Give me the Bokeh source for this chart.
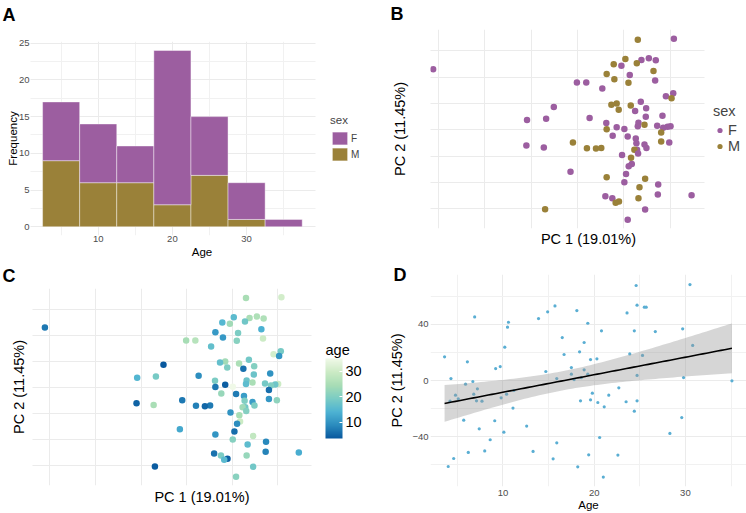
import numpy as np
from bokeh.plotting import figure
from bokeh.layouts import column, row
from bokeh.models import (ColumnDataSource, FixedTicker, Legend, LegendItem, Label,
                          LinearColorMapper, ColorBar, Range1d)
from bokeh.transform import linear_cmap
from bokeh.embed import file_html
from bokeh.resources import INLINE

FONT = "Liberation Sans"
F_COL = "#9c5ea0"
M_COL = "#9a8139"
D_COL = "#5aaed3"
GRID = "#ebebeb"
GRID_MINOR = "#f1f1f1"
TICK_TXT = "#4d4d4d"

# ---- A: age histogram (binwidth 5), stacked by sex ----
bin_left = [2.5, 7.5, 12.5, 17.5, 22.5, 27.5, 32.5]
bin_width = 5
count_f = [8, 8, 5, 21, 8, 5, 1]
count_m = [9, 6, 6, 3, 7, 1, 0]

# ---- B / C: PCA scores per sample ----
pc1 = [54.1, 15.2, 27.1, 1.8, 19.1, 34.6, 14.1, -10.8, -2.5, -205.6,
       32.1, -18.4, 6.5, -10.1, 33.9, -50.5, -40.4, 5.1, -23.1, 53.4,
       45.5, 51.6, 18.4, -7.6, -13.3, 7.6, -75.4, 24.2, -5.4, 12.3,
       41.8, 23.8, -36.8, -83.7, -104.3, 15.9, -18.8, 22.4, 36.1, 15.2,
       50.5, 47.3, -7.6, 42.6, 0.7, -18.4, 40.4, -11.9, 4.3, 13.0,
       40.4, 49.1, -54.8, 13.7, 22.4, -105.0, -86.2, 24.5, -24.2, -39.7,
       -29.9, 14.4, 11.5, 15.5, -1.8, 7.9, 8.7, 5.4, -57.4, 2.5,
       -18.4, 23.1, 0.7, 37.2, 17.0, 36.8, 73.2, -19.8, -12.3, 15.9,
       -5.1, -8.7, -84.8, 23.1, 4.3]
pc2 = [69.1, 68.4, 54.3, 53.8, 53.1, 52.8, 50.5, 49.7, 48.7, 45.9,
       44.6, 42.3, 41.6, 38.3, 37.5, 36.0, 36.0, 35.7, 31.4, 27.8,
       25.5, 24.0, 21.2, 19.9, 19.1, 18.4, 17.3, 16.3, 15.3, 14.3,
       10.7, 9.9, 8.9, 8.4, 7.4, 5.4, 5.1, 3.8, 3.1, 2.6,
       2.6, 2.3, 2.0, 1.5, 0.5, 0.3, -2.0, -4.6, -5.1, -6.6,
       -8.9, -9.7, -9.7, -10.2, -11.2, -12.0, -13.5, -13.8, -13.8, -14.0,
       -14.3, -15.1, -15.1, -18.1, -19.1, -21.2, -26.0, -27.8, -31.9, -33.7,
       -36.0, -37.2, -39.8, -41.6, -43.6, -49.2, -49.7, -50.5, -52.0, -52.0,
       -54.6, -55.4, -60.5, -60.7, -68.4]
sex = list("FMFMFFMMFF" "MMFMFFFMFF" "FMFMMMFFMF" "FFFFFFFMFF" "FFFFFMMFFF"
           "MFMFFFFFMM" "MFMFFMFFFF" "MMFFMFFFFM" "MMMFF")
age = [30.5, 24.6, 25.5, 15.7, 24.7, 25.7, 18.1, 14.9, 23.6, 6.9,
       13.9, 10.6, 19.3, 10.5, 29.7, 24.4, 26.7, 20.8, 16.5, 18.9,
       30.8, 10.2, 18.4, 23.9, 16.7, 25.3, 3.6, 20.3, 19.6, 6.1,
       9.7, 17.5, 9.2, 18.9, 14.7, 17.5, 19.3, 24.7, 18.6, 15.9,
       29.8, 17.8, 4.3, 20.0, 35.0, 6.7, 5.9, 22.7, 7.2, 11.2,
       10.4, 21.6, 6.8, 19.8, 11.1, 4.8, 24.7, 19.6, 7.1, 7.7,
       5.1, 18.5, 23.5, 20.4, 9.8, 24.4, 29.6, 9.1, 12.6, 5.7,
       10.1, 28.3, 20.6, 8.6, 15.9, 8.0, 13.3, 6.2, 19.4, 22.6,
       4.6, 15.5, 4.0, 18.2, 21.0]

# ---- D: PC 2 against age ----
age_d = [3.6, 4.0, 4.3, 4.2, 4.6, 4.8, 5.1, 5.7, 5.9, 6.1,
         6.2, 6.7, 6.8, 6.9, 7.1, 7.2, 7.4, 7.7, 8.0, 8.6,
         9.1, 9.2, 9.7, 9.8, 10.1, 10.2, 10.4, 10.5, 10.6, 11.1,
         11.2, 12.6, 13.3, 13.9, 14.7, 14.9, 15.7, 15.5, 15.9, 15.9,
         16.5, 16.7, 17.5, 17.5, 17.8, 18.1, 18.2, 18.4, 18.5, 18.6,
         18.9, 18.9, 19.3, 19.3, 19.4, 19.6, 19.6, 19.8, 20.3, 20.4,
         20.6, 20.8, 21.0, 21.1, 21.6, 22.6, 22.7, 23.5, 23.6, 23.9,
         24.4, 24.4, 24.6, 24.7, 24.7, 24.7, 25.3, 25.5, 25.7, 26.7,
         28.3, 29.6, 29.7, 29.8, 30.5, 30.8, 35.1]
pc2_d = [16.8, -61.1, 1.4, -14.7, -55.4, -10.4, -13.0, -28.2, -2.6, 13.3,
         -51.1, -0.7, -9.7, 45.2, -14.4, -5.9, -34.3, -14.7, -50.0, -42.1,
         -28.6, 8.5, 9.9, -12.3, -36.7, 23.7, -9.7, 37.9, 41.4, -19.6,
         -7.1, -32.4, -50.4, 44.0, 6.4, 48.8, 53.0, -55.6, 1.4, -44.3,
         30.5, 18.5, 9.2, 4.5, 0.7, 49.7, -61.3, 20.4, -14.4, 2.1,
         27.0, 7.6, 4.5, 40.7, -52.8, 14.9, -13.7, -9.0, 15.4, -15.6,
         -40.5, 35.3, -68.6, -18.7, -10.4, -53.0, -5.2, -15.1, 48.0, 18.9,
         35.3, -21.8, 67.5, 3.6, 53.5, -14.4, 17.8, 52.1, 52.1, 34.8,
         -37.6, -26.3, 36.7, 2.1, 68.2, 24.9, -0.2]

GNBU = ["#08589e", "#2b8cbe", "#4eb3d3", "#7bccc4", "#a8ddb5", "#ccebc5", "#f0f9e8"]


def interp_palette(stops, n):
    rgb = [tuple(int(s[i:i + 2], 16) for i in (1, 3, 5)) for s in stops]
    out = []
    for k in range(n):
        t = k / (n - 1) * (len(rgb) - 1)
        i = min(int(t), len(rgb) - 2)
        f = t - i
        c = [round(rgb[i][j] + (rgb[i + 1][j] - rgb[i][j]) * f) for j in range(3)]
        out.append("#%02x%02x%02x" % tuple(c))
    return out


def padded(lo, hi, frac=0.05):
    d = (hi - lo) * frac
    return (lo - d, hi + d)


def mapped_range(ext, px_lo, px_hi, f_lo, f_hi):
    """Range whose ends ext[0], ext[1] land on pixels px_lo, px_hi,
    stretched to a frame that runs from pixel f_lo to f_hi."""
    k = (ext[1] - ext[0]) / (px_hi - px_lo)
    return Range1d(ext[0] + (f_lo - px_lo) * k, ext[0] + (f_hi - px_lo) * k)


def make_fig(width, height, left, right, top, bottom, x_ext, x_px, y_ext, y_px):
    xr = mapped_range(x_ext, x_px[0], x_px[1], left, width - right)
    yr = mapped_range(y_ext, y_px[0], y_px[1], height - bottom, top)
    p = figure(width=width, height=height, x_range=xr, y_range=yr,
               output_backend="svg", toolbar_location=None,
               min_border_left=left, min_border_right=right,
               min_border_top=top, min_border_bottom=bottom)
    p.title.visible = False
    p.outline_line_color = None
    p.border_fill_color = "white"
    for ax in (p.xaxis[0], p.yaxis[0]):
        ax.axis_line_color = None
        ax.major_tick_line_color = None
        ax.minor_tick_line_color = None
        ax.major_tick_out = 0
        ax.major_tick_in = 0
        ax.minor_tick_out = 0
        ax.minor_tick_in = 0
        ax.major_label_text_font = FONT
        ax.major_label_text_color = TICK_TXT
        ax.major_label_text_font_size = "9.5px"
        ax.major_label_standoff = 3
        ax.axis_label_text_font = FONT
        ax.axis_label_text_font_style = "normal"
        ax.axis_label_text_color = "black"
    p.xaxis.bounds = x_ext
    p.xgrid.grid_line_color = GRID
    p.ygrid.grid_line_color = GRID
    p.xgrid.cross_bounds = y_ext
    p.ygrid.cross_bounds = x_ext
    return p


def set_ticks(p, xmaj, xmin, ymaj, ymin, labelled=True):
    xt = FixedTicker(ticks=xmaj, minor_ticks=xmin)
    yt = FixedTicker(ticks=ymaj, minor_ticks=ymin)
    p.xgrid.ticker = xt
    p.ygrid.ticker = yt
    if labelled:
        p.xaxis.ticker = xt
        p.yaxis.ticker = yt
    else:
        p.xaxis.ticker = FixedTicker(ticks=[])
        p.yaxis.ticker = FixedTicker(ticks=[])
        p.xaxis.major_label_standoff = 0
        p.yaxis.major_label_standoff = 0
    p.xgrid.minor_grid_line_color = GRID_MINOR
    p.ygrid.minor_grid_line_color = GRID_MINOR


def panel_letter(p, text, x, y):
    p.add_layout(Label(x=x, y=y, x_units="screen", y_units="screen", text=text,
                       text_font=FONT, text_font_style="bold", text_font_size="18px",
                       text_baseline="alphabetic", text_color="black"), "above")


# ================= Panel A =================
totals = [f + m for f, m in zip(count_f, count_m)]
pA = make_fig(373, 263, 30, 0, 41, 28,
              padded(bin_left[0], bin_left[-1] + bin_width), (29.1, 314.7),
              padded(0, max(totals)), (235.1, 41.2))
set_ticks(pA, [10, 20, 30], [5, 15, 25, 35],
          [0, 5, 10, 15, 20, 25], [2.5, 7.5, 12.5, 17.5, 22.5])
srcA = ColumnDataSource(dict(mid=[b + bin_width / 2 for b in bin_left],
                             M=count_m, F=count_f))
bars = pA.vbar_stack(["M", "F"], x="mid", width=bin_width, source=srcA,
                     fill_color=[M_COL, F_COL], line_color="white",
                     line_alpha=0.7, line_width=0.6)
pA.xaxis.axis_label = "Age"
pA.yaxis.axis_label = "Frequency"
pA.xaxis.axis_label_text_font_size = "11.5px"
pA.yaxis.axis_label_text_font_size = "11.5px"
pA.xaxis.major_label_standoff = 0
pA.xaxis.axis_label_standoff = 1
pA.yaxis.major_label_standoff = 1
pA.yaxis.axis_label_standoff = -3
legA = Legend(items=[LegendItem(label="F", renderers=[bars[1]]),
                     LegendItem(label="M", renderers=[bars[0]])],
              location=(300, 73), title="sex",
              title_text_font=FONT, title_text_font_size="11.5px",
              title_text_font_style="normal", title_standoff=4,
              label_text_font=FONT, label_text_font_size="10px",
              glyph_width=19, glyph_height=16, label_height=16, label_standoff=2,
              spacing=0, padding=0, margin=0,
              border_line_color=None, background_fill_alpha=0)
pA.add_layout(legA)
panel_letter(pA, "A", -28, 27)


# ================= Panel B / C helpers =================
pc1_ext = padded(min(pc1), max(pc1))
pc2_ext = padded(min(pc2), max(pc2))


def pca_fig(width, height, left, right, top, bottom, x_px, y_px):
    p = make_fig(width, height, left, right, top, bottom, pc1_ext, x_px, pc2_ext, y_px)
    set_ticks(p, [-200, -150, -100, -50, 0, 50], [],
              [-60, -40, -20, 0, 20, 40, 60], [], labelled=False)
    p.xaxis.axis_label = "PC 1 (19.01%)"
    p.yaxis.axis_label = "PC 2 (11.45%)"
    p.xaxis.axis_label_text_font_size = "14.5px"
    p.yaxis.axis_label_text_font_size = "14.5px"
    return p


# ================= Panel B =================
pB = pca_fig(373, 250, 57, 0, 29, 22, (46.7, 331.0), (228.3, 29.3))
pB.xaxis.axis_label_standoff = 2
pB.yaxis.axis_label_standoff = 23
sex_col = [F_COL if s == "F" else M_COL for s in sex]
srcB = ColumnDataSource(dict(pc1=pc1, pc2=pc2, sex=sex, col=sex_col))
rB = pB.scatter("pc1", "pc2", source=srcB, size=6.5, fill_color="col",
                line_color=None)
legB = Legend(items=[LegendItem(label="F", renderers=[rB], index=sex.index("F")),
                     LegendItem(label="M", renderers=[rB], index=sex.index("M"))],
              location=(283, 74), title="sex",
              title_text_font=FONT, title_text_font_size="14.5px",
              title_text_font_style="normal", title_standoff=3,
              label_text_font=FONT, label_text_font_size="14.5px",
              glyph_width=13, glyph_height=16, label_height=16, label_standoff=2,
              spacing=0, padding=0, margin=0,
              border_line_color=None, background_fill_alpha=0)
pB.add_layout(legB)
panel_letter(pB, "B", -40, 16)

# ================= Panel C =================
pC = pca_fig(373, 250, 30, 0, 25, 28, (31.7, 311.0), (222.3, 24.7))
pC.xaxis.axis_label_standoff = 3
pC.yaxis.axis_label_standoff = 4
palette = interp_palette(GNBU, 256)
srcC = ColumnDataSource(dict(pc1=pc1, pc2=pc2, age=age))
pC.scatter("pc1", "pc2", source=srcC, size=6.5, line_color=None,
           fill_color=linear_cmap("age", palette, min(age), max(age)))
mapper = LinearColorMapper(palette=palette, low=min(age), high=max(age))
cbar = ColorBar(color_mapper=mapper, location=(295, 47), width=17, height=80,
                ticker=FixedTicker(ticks=[10, 20, 30]),
                major_label_text_font=FONT, major_label_text_font_size="14.5px",
                major_label_text_color="black", label_standoff=3,
                major_tick_line_color="white", major_tick_in=3, major_tick_out=0,
                minor_tick_line_color=None, bar_line_color=None,
                padding=0, margin=0, border_line_color=None,
                background_fill_alpha=0)
pC.add_layout(cbar)
pC.add_layout(Label(x=295, y=136, x_units="screen", y_units="screen", text="age",
                    text_font=FONT, text_font_size="14.5px",
                    text_baseline="alphabetic", text_color="black"))
panel_letter(pC, "C", -28, 13)

# ================= Panel D =================
pD = make_fig(373, 263, 57, 0, 24, 27,
              padded(min(age_d), max(age_d)), (56.7, 372.8),
              padded(min(pc2_d), max(pc2_d)), (236.2, 24.4))
set_ticks(pD, [10, 20, 30], [5, 15, 25, 35], [-40, 0, 40], [-60, -20, 20, 60])
pD.xaxis.axis_label = "Age"
pD.yaxis.axis_label = "PC 2 (11.45%)"
pD.xaxis.axis_label_text_font_size = "11.5px"
pD.yaxis.axis_label_text_font_size = "14.5px"
pD.xaxis.axis_label_standoff = 0
pD.yaxis.axis_label_standoff = 4
pD.yaxis.major_label_standoff = 2
pD.scatter(age_d, pc2_d, size=3.2, fill_color=D_COL, line_color=None)

# linear fit with 95% confidence band
x = np.array(age_d)
y = np.array(pc2_d)
n = len(x)
slope, intercept = np.polyfit(x, y, 1)
xs = np.linspace(x.min(), x.max(), 80)
fit = intercept + slope * xs
resid = y - (intercept + slope * x)
s = np.sqrt(np.sum(resid ** 2) / (n - 2))
sxx = np.sum((x - x.mean()) ** 2)
se = s * np.sqrt(1.0 / n + (xs - x.mean()) ** 2 / sxx)
t_crit = 1.988
pD.varea(x=xs, y1=fit - t_crit * se, y2=fit + t_crit * se,
         fill_color="#999999", fill_alpha=0.4)
pD.line(xs, fit, line_color="black", line_width=1.6)
panel_letter(pD, "D", -37, 0)

layout = row(column(pA, pC), column(pB, pD))
open("out.html", "w").write(file_html(layout, INLINE))
